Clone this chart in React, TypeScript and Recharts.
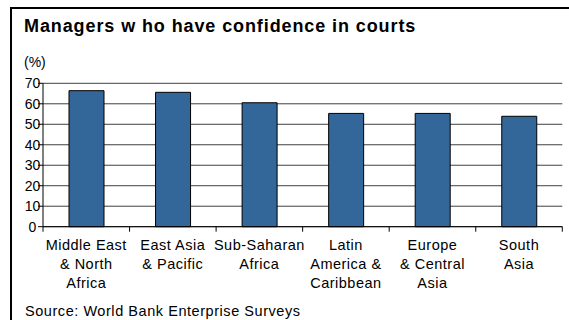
import { Bar, BarChart, CartesianGrid, XAxis, YAxis } from 'recharts'

const regions = [
  'Middle East\n& North\nAfrica',
  'East Asia\n& Pacific',
  'Sub-Saharan\nAfrica',
  'Latin\nAmerica &\nCaribbean',
  'Europe\n& Central\nAsia',
  'South\nAsia',
]
const confidence = [66.4, 65.6, 60.5, 55.3, 55.3, 53.9]
const yTicks = [0, 10, 20, 30, 40, 50, 60, 70]

const data = regions.map((r, i) => ({ region: r, value: confidence[i] }))

const W = 569
const H = 320
const PLOT_LEFT = 43
const PLOT_RIGHT = 562.3
const PLOT_TOP = 83.3
const PLOT_BOTTOM = 226.7
const X_AXIS_H = 60
const STEP = (PLOT_RIGHT - PLOT_LEFT) / regions.length
const FONT = "'Liberation Sans', Arial, sans-serif"

// Excel-style ticks sit between categories, so draw them ourselves
function RegionTick(props: any) {
  const { x, payload, index } = props
  const lines = String(payload.value).split('\n')
  const left = x - STEP / 2
  const right = x + STEP / 2
  return (
    <g>
      <line x1={left} x2={left} y1={PLOT_BOTTOM} y2={PLOT_BOTTOM + 5} stroke="#000" />
      {index === regions.length - 1 && (
        <line x1={right} x2={right} y1={PLOT_BOTTOM} y2={PLOT_BOTTOM + 5} stroke="#000" />
      )}
      <text textAnchor="middle" fontSize={14.5} fontFamily={FONT} fill="#000" letterSpacing={0.5}>
        {lines.map((l, i) => (
          <tspan key={i} x={x} y={PLOT_BOTTOM + 23.3 + i * 18.8}>
            {l}
          </tspan>
        ))}
      </text>
    </g>
  )
}

function PercentTick(props: any) {
  const { y, payload } = props
  return (
    <text x={32.5} y={y} dy="0.355em" textAnchor="middle" fontSize={14} fontFamily={FONT} fill="#000">
      {payload.value}
    </text>
  )
}

export default function App() {
  return (
    <div
      style={{
        position: 'absolute',
        left: 0,
        top: 0,
        width: W,
        height: H,
        overflow: 'hidden',
        background: '#fff',
        fontFamily: FONT,
      }}
    >
      <div
        style={{
          position: 'absolute',
          left: 10,
          top: 7,
          width: 600,
          height: 400,
          border: '2px solid #000',
        }}
      />
      <div
        style={{
          position: 'absolute',
          left: 24,
          top: 17,
          fontSize: 18,
          lineHeight: 1,
          fontWeight: 'bold',
          letterSpacing: 0.9,
          whiteSpace: 'nowrap',
        }}
      >
        Managers w ho have confidence in courts
      </div>
      <div style={{ position: 'absolute', left: 24, top: 55, fontSize: 14, lineHeight: 1 }}>(%)</div>
      <div
        style={{
          position: 'absolute',
          left: 25,
          top: 304.4,
          fontSize: 14.5,
          lineHeight: 1,
          letterSpacing: 0.55,
          whiteSpace: 'nowrap',
        }}
      >
        Source: World Bank Enterprise Surveys
      </div>
      <div style={{ position: 'absolute', left: 0, top: 0 }}>
        <BarChart
          width={W}
          height={H}
          data={data}
          margin={{ top: PLOT_TOP, right: W - PLOT_RIGHT, left: 0, bottom: H - PLOT_BOTTOM - X_AXIS_H }}
        >
          <CartesianGrid vertical={false} stroke="#404040" />
          <XAxis
            dataKey="region"
            height={X_AXIS_H}
            interval={0}
            tickLine={false}
            axisLine={{ stroke: '#000' }}
            tick={<RegionTick />}
          />
          <YAxis
            width={PLOT_LEFT}
            domain={[0, 70]}
            ticks={yTicks}
            interval={0}
            tickSize={5}
            tickLine={{ stroke: '#000' }}
            axisLine={{ stroke: '#000' }}
            tick={<PercentTick />}
          />
          <Bar dataKey="value" fill="#336699" stroke="#000" strokeWidth={1} barSize={35} isAnimationActive={false} />
        </BarChart>
      </div>
    </div>
  )
}
